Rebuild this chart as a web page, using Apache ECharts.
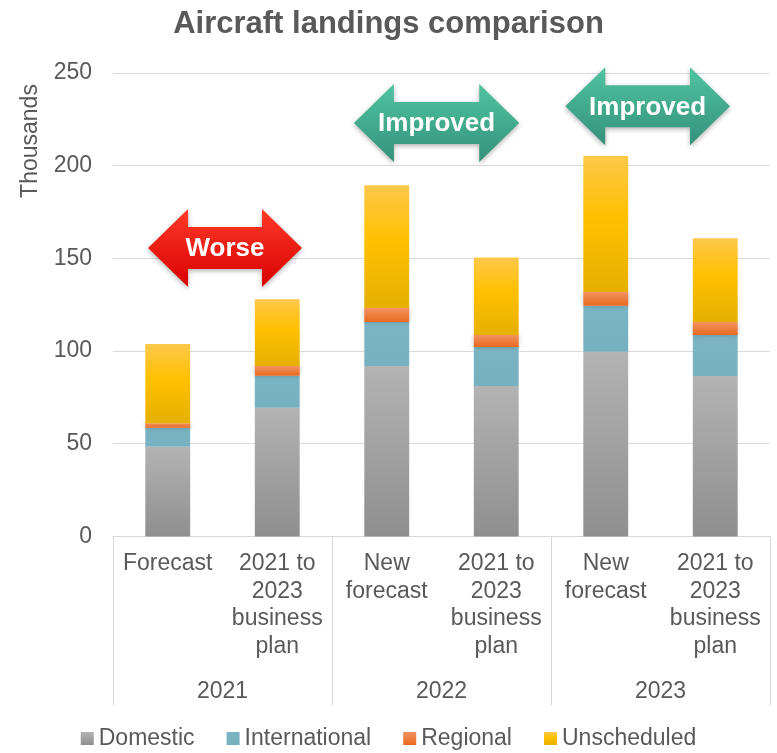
<!DOCTYPE html>
<html><head><meta charset="utf-8">
<script src="https://cdn.jsdelivr.net/npm/echarts@6/dist/echarts.min.js"></script>
<style>html,body{margin:0;padding:0;background:#fff}#c{width:777px;height:753px}</style>
</head><body><div id="c"></div>
<script>
// ---- data ----
const categories = ['Forecast', '2021 to\n2023\nbusiness\nplan', 'New\nforecast', '2021 to\n2023\nbusiness\nplan', 'New\nforecast', '2021 to\n2023\nbusiness\nplan'];
const groups = ['2021', '2022', '2023'];
const domestic = [48.4, 69.4, 91.9, 81.1, 99.6, 86.5];
const international = [10.2, 17.3, 23.7, 21.1, 24.8, 22.1];
const regional = [2.4, 5.2, 7.6, 6.4, 7.4, 7.0];
const unscheduled = [42.8, 36.0, 66.3, 41.9, 73.4, 45.3];
const seriesNames = ['Domestic', 'International', 'Regional', 'Unscheduled'];
// annotation arrows (category position range and value level)
const arrowLabels = ['Worse', 'Improved', 'Improved'];
const arrowFrom = [-0.18, 1.70, 3.63];
const arrowTo = [1.226, 3.21, 5.135];
const arrowLevel = [155.6, 223, 232];

const TXT = '#595959';
const FONT = 'Liberation Sans, Arial, sans-serif';

function vgrad(stops) {
  return new echarts.graphic.LinearGradient(0, 0, 0, 1, stops.map((c) => ({offset: c[0], color: c[1]})));
}
const colors = [
  vgrad([[0, '#b3b3b3'], [1, '#8f8f8f']]),
  vgrad([[0, '#7bb5c3'], [1, '#77b1bf']]),
  vgrad([[0, '#f3935f'], [1, '#e8691f']]),
  vgrad([[0, '#fec84a'], [0.45, '#ffc000'], [1, '#e6b000']])
];
const values = [domestic, international, regional, unscheduled];

const chart = echarts.init(document.getElementById('c'), null, {renderer: 'canvas'});
chart.setOption({
  animation: false,
  textStyle: {fontFamily: FONT},
  title: {
    text: 'Aircraft landings comparison', left: 'center', top: 4,
    textStyle: {fontSize: 31, fontWeight: 'bold', color: TXT, fontFamily: FONT}
  },
  legend: {
    top: 722, left: 'center', itemWidth: 13, itemHeight: 13, itemGap: 32,
    icon: 'rect',
    textStyle: {fontSize: 23, color: TXT, fontFamily: FONT},
    data: seriesNames
  },
  grid: {left: 113, right: 7, top: 73, bottom: 216.6, containLabel: false},
  xAxis: [
    {
      type: 'category', data: categories, position: 'bottom',
      axisLine: {show: true, lineStyle: {color: '#d9d9d9', width: 1}},
      axisTick: {show: false},
      axisLabel: {fontSize: 23, color: TXT, fontFamily: FONT, margin: 14, lineHeight: 27.5, interval: 0, align: 'center'}
    },
    {
      type: 'category', data: groups, position: 'bottom', boundaryGap: true,
      axisLine: {show: false},
      axisTick: {show: true, length: 169, lineStyle: {color: '#d9d9d9', width: 1}},
      axisLabel: {fontSize: 23, color: TXT, fontFamily: FONT, margin: 144, interval: 0}
    }
  ],
  yAxis: {
    type: 'value', min: 0, max: 250, interval: 50,
    axisLine: {show: false}, axisTick: {show: false},
    splitLine: {lineStyle: {color: '#d9d9d9', width: 1}},
    axisLabel: {fontSize: 23, color: TXT, fontFamily: FONT, margin: 21}
  },
  series: seriesNames.map((n, i) => ({
    name: n, type: 'bar', stack: 'all', xAxisIndex: 0, barWidth: '41%',
    data: values[i],
    itemStyle: {color: colors[i], shadowBlur: 5, shadowColor: 'rgba(0,0,0,0.22)'}
  }))
});

function drawArrows() {
  const a = chart.convertToPixel({gridIndex: 0}, [0, 0]);
  const b = chart.convertToPixel({gridIndex: 0}, [1, 0]);
  const step = b[0] - a[0];
  const els = [];
  arrowLabels.forEach((lab, i) => {
    const x0 = a[0] + arrowFrom[i] * step;
    const x1 = a[0] + arrowTo[i] * step;
    const cy = chart.convertToPixel({gridIndex: 0}, [0, arrowLevel[i]])[1];
    const H = 78, bh = 42, h = 40;
    const pts = [
      [x0, cy], [x0 + h, cy - H / 2], [x0 + h, cy - bh / 2], [x1 - h, cy - bh / 2], [x1 - h, cy - H / 2],
      [x1, cy], [x1 - h, cy + H / 2], [x1 - h, cy + bh / 2], [x0 + h, cy + bh / 2], [x0 + h, cy + H / 2]
    ];
    const red = lab === 'Worse';
    const fill = red
      ? new echarts.graphic.LinearGradient(0, 0, 0, 1, [{offset: 0, color: '#ff3a28'}, {offset: 1, color: '#d80000'}])
      : new echarts.graphic.LinearGradient(0, 0, 0, 1, [{offset: 0, color: '#4fc4a2'}, {offset: 1, color: '#35917a'}]);
    els.push({
      type: 'polygon', z: 100,
      shape: {points: pts},
      style: {fill: fill, shadowBlur: 5, shadowColor: 'rgba(0,0,0,0.3)', shadowOffsetY: 2}
    });
    els.push({
      type: 'text', z: 101, x: (x0 + x1) / 2, y: cy + 1,
      style: {text: lab, fill: '#ffffff', fontSize: 26, fontWeight: 'bold', fontFamily: FONT, align: 'center', verticalAlign: 'middle'}
    });
  });
  els.push({
    type: 'text', x: 31, y: 141, rotation: Math.PI / 2,
    style: {text: 'Thousands', fill: TXT, fontSize: 23, fontFamily: FONT, align: 'center', verticalAlign: 'middle'}
  });
  chart.setOption({graphic: els});
}
drawArrows();
</script>
</body></html>
